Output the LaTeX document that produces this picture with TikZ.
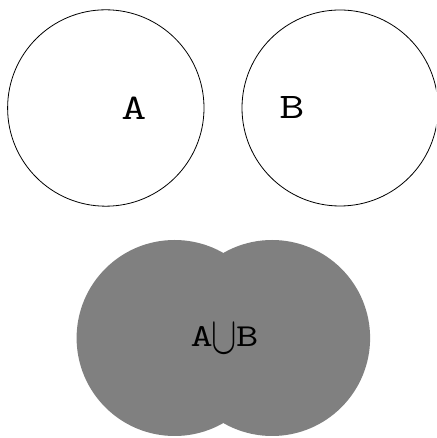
\documentclass[tikz,border=0pt]{standalone}
\usepackage{fontspec}
\usepackage{graphicx}
\newcommand{\widetype}[1]{\scalebox{1.35}[1]{#1}}
\begin{document}
\begin{tikzpicture}[x=1pt,y=1pt,
  setring/.style={draw=black,line width=0.8pt,fill=none},
  setlabel/.style={font=\ttfamily\fontsize{36}{36}\selectfont,inner sep=0pt},
  uniontext/.style={font=\ttfamily\fontsize{32}{32}\selectfont,inner sep=0pt}]
  \useasboundingbox (0,0) rectangle (436,438);
  \clip (0,0) rectangle (436,438);
  % the two sets, drawn apart
  \draw[setring] (105.8,330) circle[radius=98.2];
  \draw[setring] (340,330) circle[radius=98];
  \node[setlabel] (labelA) at (134,330) {\widetype{A}};
  \node[setlabel] (labelB) at (292,330) {\widetype{B}};
  % their union, shaded
  \fill[black!50] (174.6,100) circle[radius=98];
  \fill[black!50] (272.1,100) circle[radius=98];
  \node[uniontext,anchor=base] (labelAB) at (224.5,91)
    {\widetype{A}\kern-1pt\raisebox{-7pt}{\scalebox{3.8}[5.3]{\normalsize$\cup$}}\kern-1pt\widetype{B}};
\end{tikzpicture}
\end{document}
